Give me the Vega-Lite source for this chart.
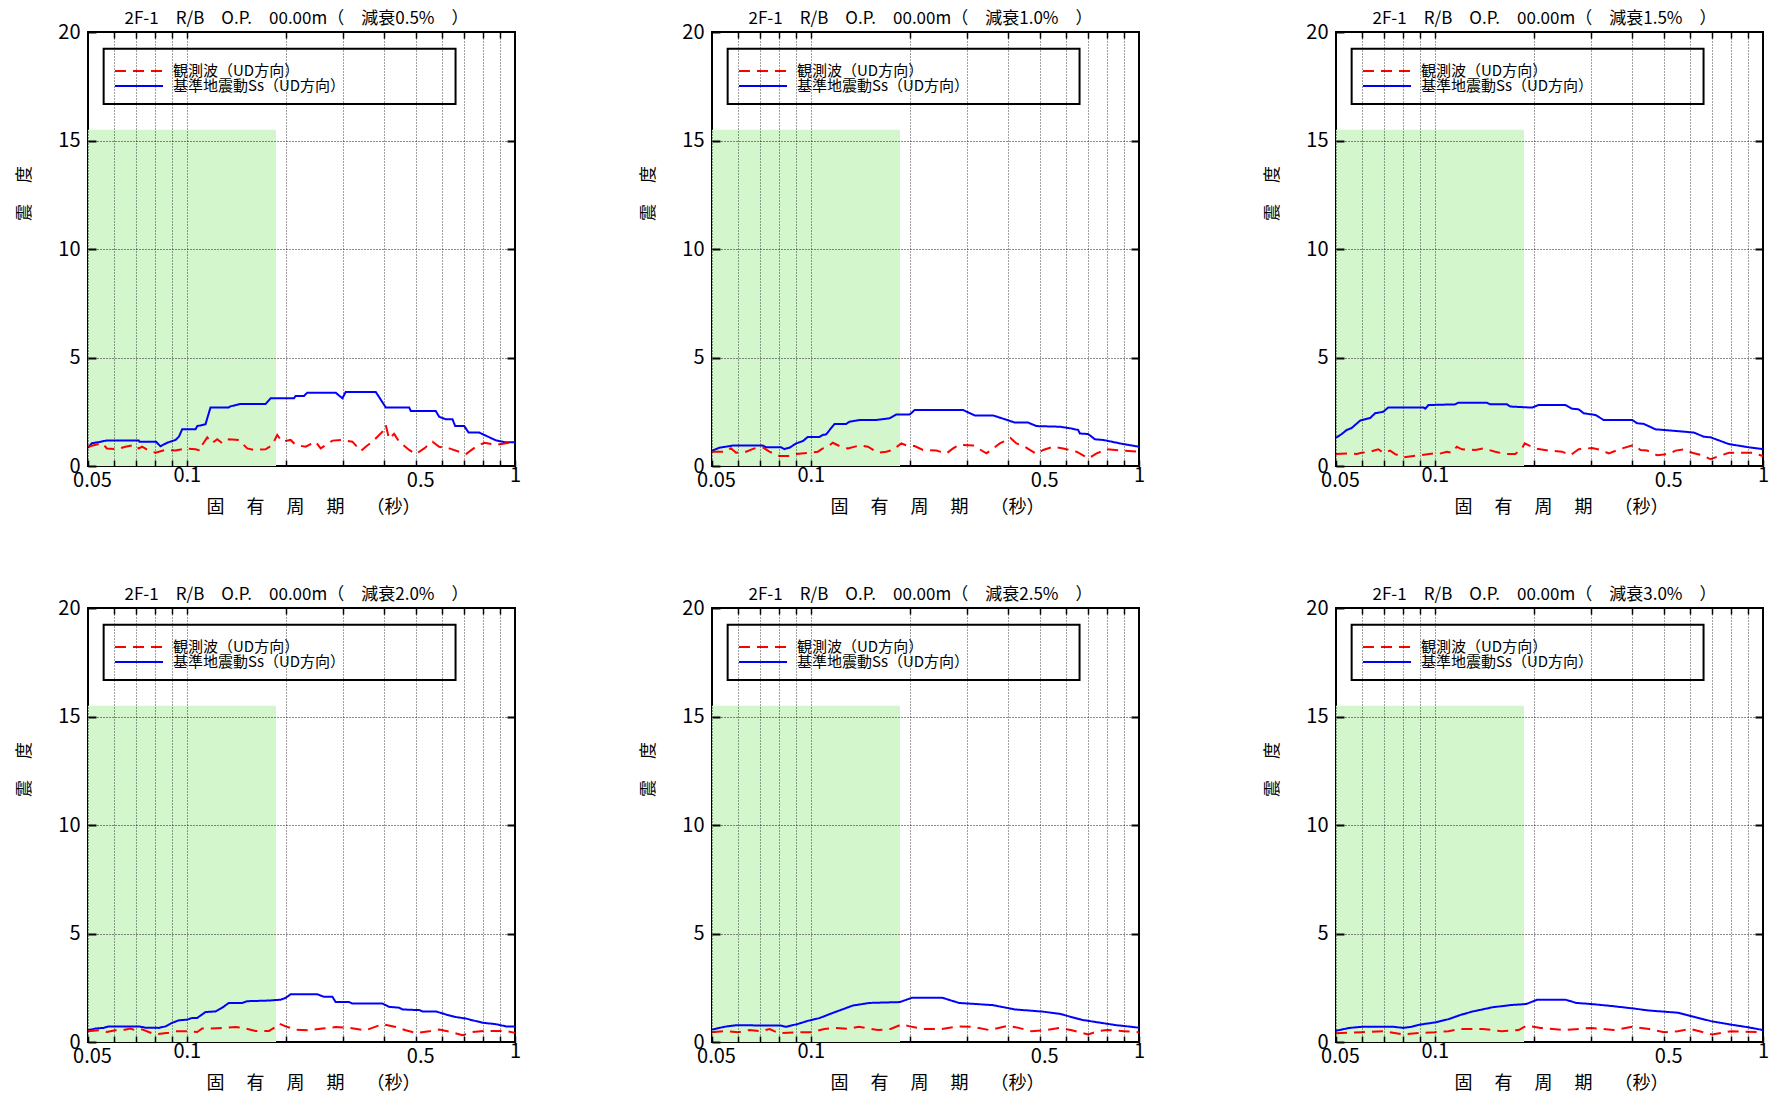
{
  "$schema": "https://vega.github.io/schema/vega-lite/v6.json",
  "padding": {"left": 14, "top": 9, "right": 0, "bottom": 0},
  "config": {
    "font": "Noto Sans CJK JP",
    "view": {"stroke": "#000", "strokeWidth": 2},
    "axis": {"labelColor": "#000", "titleColor": "#000", "titleFontWeight": "normal", "labelFont": "Noto Sans CJK JP", "titleFont": "Noto Sans CJK JP"},
    "axisBottom": {"labelPadding": {"condition": {"test": "datum.value == 0.1 || datum.value == 1", "value": 5}, "value": 10}, "labelOffset": {"condition": {"test": "datum.value == 0.05 || datum.value == 0.5", "value": 4}, "value": 0}},
    "title": {"font": "Noto Sans CJK JP", "fontSize": 17, "fontWeight": "normal", "color": "#000", "offset": -6, "frame": "group", "dx": -5},
    "legend": {"labelFont": "Noto Sans CJK JP"}
  },
  "datasets": {
    "p1": [
      {"series": "基準地震動Ss（UD方向）", "period": 0.05, "value": 0.84},
      {"series": "基準地震動Ss（UD方向）", "period": 0.0514, "value": 1.05},
      {"series": "基準地震動Ss（UD方向）", "period": 0.0539, "value": 1.10},
      {"series": "基準地震動Ss（UD方向）", "period": 0.0571, "value": 1.18},
      {"series": "基準地震動Ss（UD方向）", "period": 0.0714, "value": 1.18},
      {"series": "基準地震動Ss（UD方向）", "period": 0.0717, "value": 1.12},
      {"series": "基準地震動Ss（UD方向）", "period": 0.0806, "value": 1.12},
      {"series": "基準地震動Ss（UD方向）", "period": 0.0831, "value": 0.91},
      {"series": "基準地震動Ss（UD方向）", "period": 0.0871, "value": 1.07},
      {"series": "基準地震動Ss（UD方向）", "period": 0.0924, "value": 1.20},
      {"series": "基準地震動Ss（UD方向）", "period": 0.0946, "value": 1.35},
      {"series": "基準地震動Ss（UD方向）", "period": 0.0968, "value": 1.69},
      {"series": "基準地震動Ss（UD方向）", "period": 0.1063, "value": 1.69},
      {"series": "基準地震動Ss（UD方向）", "period": 0.1076, "value": 1.84},
      {"series": "基準地震動Ss（UD方向）", "period": 0.1140, "value": 1.92},
      {"series": "基準地震動Ss（UD方向）", "period": 0.1181, "value": 2.70},
      {"series": "基準地震動Ss（UD方向）", "period": 0.1343, "value": 2.70},
      {"series": "基準地震動Ss（UD方向）", "period": 0.1359, "value": 2.75},
      {"series": "基準地震動Ss（UD方向）", "period": 0.1458, "value": 2.86},
      {"series": "基準地震動Ss（UD方向）", "period": 0.1738, "value": 2.86},
      {"series": "基準地震動Ss（UD方向）", "period": 0.1800, "value": 3.12},
      {"series": "基準地震動Ss（UD方向）", "period": 0.2121, "value": 3.12},
      {"series": "基準地震動Ss（UD方向）", "period": 0.2146, "value": 3.23},
      {"series": "基準地震動Ss（UD方向）", "period": 0.2276, "value": 3.23},
      {"series": "基準地震動Ss（UD方向）", "period": 0.2329, "value": 3.38},
      {"series": "基準地震動Ss（UD方向）", "period": 0.2842, "value": 3.38},
      {"series": "基準地震動Ss（UD方向）", "period": 0.2978, "value": 3.12},
      {"series": "基準地震動Ss（UD方向）", "period": 0.3049, "value": 3.41},
      {"series": "基準地震動Ss（UD方向）", "period": 0.3766, "value": 3.41},
      {"series": "基準地震動Ss（UD方向）", "period": 0.4039, "value": 2.70},
      {"series": "基準地震動Ss（UD方向）", "period": 0.4759, "value": 2.70},
      {"series": "基準地震動Ss（UD方向）", "period": 0.4815, "value": 2.53},
      {"series": "基準地震動Ss（UD方向）", "period": 0.5738, "value": 2.53},
      {"series": "基準地震動Ss（UD方向）", "period": 0.5874, "value": 2.27},
      {"series": "基準地震動Ss（UD方向）", "period": 0.6156, "value": 2.15},
      {"series": "基準地震動Ss（UD方向）", "period": 0.6451, "value": 2.15},
      {"series": "基準地震動Ss（UD方向）", "period": 0.6573, "value": 1.84},
      {"series": "基準地震動Ss（UD方向）", "period": 0.7005, "value": 1.84},
      {"series": "基準地震動Ss（UD方向）", "period": 0.7222, "value": 1.54},
      {"series": "基準地震動Ss（UD方向）", "period": 0.7783, "value": 1.54},
      {"series": "基準地震動Ss（UD方向）", "period": 0.875, "value": 1.18},
      {"series": "基準地震動Ss（UD方向）", "period": 0.9278, "value": 1.10},
      {"series": "基準地震動Ss（UD方向）", "period": 1.0, "value": 1.10},
      {"series": "観測波（UD方向）", "period": 0.05, "value": 0.89},
      {"series": "観測波（UD方向）", "period": 0.0552, "value": 1.05},
      {"series": "観測波（UD方向）", "period": 0.0571, "value": 0.81},
      {"series": "観測波（UD方向）", "period": 0.0613, "value": 0.77},
      {"series": "観測波（UD方向）", "period": 0.0650, "value": 0.89},
      {"series": "観測波（UD方向）", "period": 0.0697, "value": 0.97},
      {"series": "観測波（UD方向）", "period": 0.0714, "value": 0.81},
      {"series": "観測波（UD方向）", "period": 0.0731, "value": 0.89},
      {"series": "観測波（UD方向）", "period": 0.0766, "value": 0.71},
      {"series": "観測波（UD方向）", "period": 0.0803, "value": 0.61},
      {"series": "観測波（UD方向）", "period": 0.0861, "value": 0.74},
      {"series": "観測波（UD方向）", "period": 0.0924, "value": 0.71},
      {"series": "観測波（UD方向）", "period": 0.0991, "value": 0.81},
      {"series": "観測波（UD方向）", "period": 0.1063, "value": 0.77},
      {"series": "観測波（UD方向）", "period": 0.1101, "value": 0.71},
      {"series": "観測波（UD方向）", "period": 0.1114, "value": 0.97},
      {"series": "観測波（UD方向）", "period": 0.1154, "value": 1.32},
      {"series": "観測波（UD方向）", "period": 0.1194, "value": 1.05},
      {"series": "観測波（UD方向）", "period": 0.1238, "value": 1.23},
      {"series": "観測波（UD方向）", "period": 0.1282, "value": 1.05},
      {"series": "観測波（UD方向）", "period": 0.1343, "value": 1.23},
      {"series": "観測波（UD方向）", "period": 0.1441, "value": 1.20},
      {"series": "観測波（UD方向）", "period": 0.1528, "value": 0.81},
      {"series": "観測波（UD方向）", "period": 0.1602, "value": 0.74},
      {"series": "観測波（UD方向）", "period": 0.1738, "value": 0.77},
      {"series": "観測波（UD方向）", "period": 0.1821, "value": 0.97},
      {"series": "観測波（UD方向）", "period": 0.1886, "value": 1.43},
      {"series": "観測波（UD方向）", "period": 0.1954, "value": 1.12},
      {"series": "観測波（UD方向）", "period": 0.2072, "value": 1.20},
      {"series": "観測波（UD方向）", "period": 0.2146, "value": 0.97},
      {"series": "観測波（UD方向）", "period": 0.2302, "value": 0.89},
      {"series": "観測波（UD方向）", "period": 0.2470, "value": 1.12},
      {"series": "観測波（UD方向）", "period": 0.2558, "value": 0.81},
      {"series": "観測波（UD方向）", "period": 0.2778, "value": 1.17},
      {"series": "観測波（UD方向）", "period": 0.2978, "value": 1.20},
      {"series": "観測波（UD方向）", "period": 0.3196, "value": 1.12},
      {"series": "観測波（UD方向）", "period": 0.3389, "value": 0.69},
      {"series": "観測波（UD方向）", "period": 0.3510, "value": 0.89},
      {"series": "観測波（UD方向）", "period": 0.3678, "value": 1.12},
      {"series": "観測波（UD方向）", "period": 0.3946, "value": 1.58},
      {"series": "観測波（UD方向）", "period": 0.4039, "value": 1.89},
      {"series": "観測波（UD方向）", "period": 0.4135, "value": 1.25},
      {"series": "観測波（UD方向）", "period": 0.4283, "value": 1.48},
      {"series": "観測波（UD方向）", "period": 0.4436, "value": 1.12},
      {"series": "観測波（UD方向）", "period": 0.4759, "value": 0.74},
      {"series": "観測波（UD方向）", "period": 0.4987, "value": 0.55},
      {"series": "観測波（UD方向）", "period": 0.5288, "value": 0.81},
      {"series": "観測波（UD方向）", "period": 0.5607, "value": 1.12},
      {"series": "観測波（UD方向）", "period": 0.5874, "value": 0.89},
      {"series": "観測波（UD方向）", "period": 0.6305, "value": 0.81},
      {"series": "観測波（UD方向）", "period": 0.7088, "value": 0.55},
      {"series": "観測波（UD方向）", "period": 0.7602, "value": 0.89},
      {"series": "観測波（UD方向）", "period": 0.806, "value": 1.07},
      {"series": "観測波（UD方向）", "period": 0.875, "value": 0.97},
      {"series": "観測波（UD方向）", "period": 1.0, "value": 1.12}
    ],
    "p2": [
      {"series": "基準地震動Ss（UD方向）", "period": 0.05, "value": 0.70},
      {"series": "基準地震動Ss（UD方向）", "period": 0.0526, "value": 0.84},
      {"series": "基準地震動Ss（UD方向）", "period": 0.0578, "value": 0.94},
      {"series": "基準地震動Ss（UD方向）", "period": 0.0714, "value": 0.94},
      {"series": "基準地震動Ss（UD方向）", "period": 0.0731, "value": 0.86},
      {"series": "基準地震動Ss（UD方向）", "period": 0.0812, "value": 0.86},
      {"series": "基準地震動Ss（UD方向）", "period": 0.0831, "value": 0.78},
      {"series": "基準地震動Ss（UD方向）", "period": 0.0861, "value": 0.84},
      {"series": "基準地震動Ss（UD方向）", "period": 0.0902, "value": 1.04},
      {"series": "基準地震動Ss（UD方向）", "period": 0.0946, "value": 1.15},
      {"series": "基準地震動Ss（UD方向）", "period": 0.0979, "value": 1.34},
      {"series": "基準地震動Ss（UD方向）", "period": 0.1063, "value": 1.34},
      {"series": "基準地震動Ss（UD方向）", "period": 0.1088, "value": 1.43},
      {"series": "基準地震動Ss（UD方向）", "period": 0.1114, "value": 1.46},
      {"series": "基準地震動Ss（UD方向）", "period": 0.1181, "value": 1.94},
      {"series": "基準地震動Ss（UD方向）", "period": 0.1282, "value": 1.94},
      {"series": "基準地震動Ss（UD方向）", "period": 0.1312, "value": 2.04},
      {"series": "基準地震動Ss（UD方向）", "period": 0.1408, "value": 2.12},
      {"series": "基準地震動Ss（UD方向）", "period": 0.1583, "value": 2.12},
      {"series": "基準地震動Ss（UD方向）", "period": 0.1738, "value": 2.20},
      {"series": "基準地震動Ss（UD方向）", "period": 0.1821, "value": 2.37},
      {"series": "基準地震動Ss（UD方向）", "period": 0.2001, "value": 2.37},
      {"series": "基準地震動Ss（UD方向）", "period": 0.2072, "value": 2.58},
      {"series": "基準地震動Ss（UD方向）", "period": 0.2911, "value": 2.58},
      {"series": "基準地震動Ss（UD方向）", "period": 0.3159, "value": 2.33},
      {"series": "基準地震動Ss（UD方向）", "period": 0.3593, "value": 2.33},
      {"series": "基準地震動Ss（UD方向）", "period": 0.3946, "value": 2.13},
      {"series": "基準地震動Ss（UD方向）", "period": 0.4185, "value": 2.00},
      {"series": "基準地震動Ss（UD方向）", "period": 0.4595, "value": 2.00},
      {"series": "基準地震動Ss（UD方向）", "period": 0.4872, "value": 1.84},
      {"series": "基準地震動Ss（UD方向）", "period": 0.5738, "value": 1.81},
      {"series": "基準地震動Ss（UD方向）", "period": 0.6156, "value": 1.74},
      {"series": "基準地震動Ss（UD方向）", "period": 0.6527, "value": 1.66},
      {"series": "基準地震動Ss（UD方向）", "period": 0.6604, "value": 1.50},
      {"series": "基準地震動Ss（UD方向）", "period": 0.7005, "value": 1.47},
      {"series": "基準地震動Ss（UD方向）", "period": 0.7341, "value": 1.23},
      {"series": "基準地震動Ss（UD方向）", "period": 0.7783, "value": 1.20},
      {"series": "基準地震動Ss（UD方向）", "period": 0.8957, "value": 1.01},
      {"series": "基準地震動Ss（UD方向）", "period": 1.0, "value": 0.89},
      {"series": "観測波（UD方向）", "period": 0.05, "value": 0.66},
      {"series": "観測波（UD方向）", "period": 0.0552, "value": 0.66},
      {"series": "観測波（UD方向）", "period": 0.0571, "value": 0.82},
      {"series": "観測波（UD方向）", "period": 0.0592, "value": 0.61},
      {"series": "観測波（UD方向）", "period": 0.0635, "value": 0.66},
      {"series": "観測波（UD方向）", "period": 0.0673, "value": 0.81},
      {"series": "観測波（UD方向）", "period": 0.0714, "value": 0.86},
      {"series": "観測波（UD方向）", "period": 0.0748, "value": 0.66},
      {"series": "観測波（UD方向）", "period": 0.0803, "value": 0.46},
      {"series": "観測波（UD方向）", "period": 0.0861, "value": 0.46},
      {"series": "観測波（UD方向）", "period": 0.0902, "value": 0.55},
      {"series": "観測波（UD方向）", "period": 0.0991, "value": 0.61},
      {"series": "観測波（UD方向）", "period": 0.1051, "value": 0.66},
      {"series": "観測波（UD方向）", "period": 0.1088, "value": 0.81},
      {"series": "観測波（UD方向）", "period": 0.1127, "value": 0.89},
      {"series": "観測波（UD方向）", "period": 0.1167, "value": 1.07},
      {"series": "観測波（UD方向）", "period": 0.1223, "value": 0.92},
      {"series": "観測波（UD方向）", "period": 0.1297, "value": 0.81},
      {"series": "観測波（UD方向）", "period": 0.1408, "value": 0.95},
      {"series": "観測波（UD方向）", "period": 0.1493, "value": 0.89},
      {"series": "観測波（UD方向）", "period": 0.1602, "value": 0.61},
      {"series": "観測波（UD方向）", "period": 0.1698, "value": 0.66},
      {"series": "観測波（UD方向）", "period": 0.1780, "value": 0.74},
      {"series": "観測波（UD方向）", "period": 0.1886, "value": 1.04},
      {"series": "観測波（UD方向）", "period": 0.1954, "value": 0.95},
      {"series": "観測波（UD方向）", "period": 0.2072, "value": 0.92},
      {"series": "観測波（UD方向）", "period": 0.2197, "value": 0.74},
      {"series": "観測波（UD方向）", "period": 0.2414, "value": 0.71},
      {"series": "観測波（UD方向）", "period": 0.2589, "value": 0.58},
      {"series": "観測波（UD方向）", "period": 0.2713, "value": 0.81},
      {"series": "観測波（UD方向）", "period": 0.2842, "value": 0.98},
      {"series": "観測波（UD方向）", "period": 0.3122, "value": 0.95},
      {"series": "観測波（UD方向）", "period": 0.3429, "value": 0.58},
      {"series": "観測波（UD方向）", "period": 0.3766, "value": 1.04},
      {"series": "観測波（UD方向）", "period": 0.4058, "value": 1.29},
      {"series": "観測波（UD方向）", "period": 0.4233, "value": 1.04},
      {"series": "観測波（UD方向）", "period": 0.4489, "value": 0.89},
      {"series": "観測波（UD方向）", "period": 0.4872, "value": 0.55},
      {"series": "観測波（UD方向）", "period": 0.5106, "value": 0.74},
      {"series": "観測波（UD方向）", "period": 0.5478, "value": 0.89},
      {"series": "観測波（UD方向）", "period": 0.5874, "value": 0.81},
      {"series": "観測波（UD方向）", "period": 0.6451, "value": 0.66},
      {"series": "観測波（UD方向）", "period": 0.7005, "value": 0.35},
      {"series": "観測波（UD方向）", "period": 0.7428, "value": 0.58},
      {"series": "観測波（UD方向）", "period": 0.7966, "value": 0.77},
      {"series": "観測波（UD方向）", "period": 0.8957, "value": 0.71},
      {"series": "観測波（UD方向）", "period": 1.0, "value": 0.66}
    ],
    "p3": [
      {"series": "基準地震動Ss（UD方向）", "period": 0.05, "value": 1.30},
      {"series": "基準地震動Ss（UD方向）", "period": 0.0520, "value": 1.47},
      {"series": "基準地震動Ss（UD方向）", "period": 0.0539, "value": 1.66},
      {"series": "基準地震動Ss（UD方向）", "period": 0.0558, "value": 1.75},
      {"series": "基準地震動Ss（UD方向）", "period": 0.0592, "value": 2.09},
      {"series": "基準地震動Ss（UD方向）", "period": 0.0635, "value": 2.21},
      {"series": "基準地震動Ss（UD方向）", "period": 0.0658, "value": 2.43},
      {"series": "基準地震動Ss（UD方向）", "period": 0.0697, "value": 2.50},
      {"series": "基準地震動Ss（UD方向）", "period": 0.0722, "value": 2.70},
      {"series": "基準地震動Ss（UD方向）", "period": 0.0924, "value": 2.70},
      {"series": "基準地震動Ss（UD方向）", "period": 0.0935, "value": 2.64},
      {"series": "基準地震動Ss（UD方向）", "period": 0.0957, "value": 2.81},
      {"series": "基準地震動Ss（UD方向）", "period": 0.1154, "value": 2.84},
      {"series": "基準地震動Ss（UD方向）", "period": 0.1181, "value": 2.92},
      {"series": "基準地震動Ss（UD方向）", "period": 0.1441, "value": 2.92},
      {"series": "基準地震動Ss（UD方向）", "period": 0.1475, "value": 2.84},
      {"series": "基準地震動Ss（UD方向）", "period": 0.1659, "value": 2.84},
      {"series": "基準地震動Ss（UD方向）", "period": 0.1698, "value": 2.74},
      {"series": "基準地震動Ss（UD方向）", "period": 0.1977, "value": 2.69},
      {"series": "基準地震動Ss（UD方向）", "period": 0.2072, "value": 2.81},
      {"series": "基準地震動Ss（UD方向）", "period": 0.2499, "value": 2.81},
      {"series": "基準地震動Ss（UD方向）", "period": 0.2620, "value": 2.64},
      {"series": "基準地震動Ss（UD方向）", "period": 0.2745, "value": 2.61},
      {"series": "基準地震動Ss（UD方向）", "period": 0.2842, "value": 2.43},
      {"series": "基準地震動Ss（UD方向）", "period": 0.3086, "value": 2.35},
      {"series": "基準地震動Ss（UD方向）", "period": 0.3272, "value": 2.12},
      {"series": "基準地震動Ss（UD方向）", "period": 0.3993, "value": 2.12},
      {"series": "基準地震動Ss（UD方向）", "period": 0.4135, "value": 1.97},
      {"series": "基準地震動Ss（UD方向）", "period": 0.4334, "value": 1.94},
      {"series": "基準地震動Ss（UD方向）", "period": 0.4703, "value": 1.69},
      {"series": "基準地震動Ss（UD方向）", "period": 0.4987, "value": 1.66},
      {"series": "基準地震動Ss（UD方向）", "period": 0.5671, "value": 1.59},
      {"series": "基準地震動Ss（UD方向）", "period": 0.6156, "value": 1.54},
      {"series": "基準地震動Ss（UD方向）", "period": 0.6604, "value": 1.35},
      {"series": "基準地震動Ss（UD方向）", "period": 0.6924, "value": 1.32},
      {"series": "基準地震動Ss（UD方向）", "period": 0.7874, "value": 1.01},
      {"series": "基準地震動Ss（UD方向）", "period": 0.9063, "value": 0.86},
      {"series": "基準地震動Ss（UD方向）", "period": 1.0, "value": 0.78},
      {"series": "観測波（UD方向）", "period": 0.05, "value": 0.55},
      {"series": "観測波（UD方向）", "period": 0.0558, "value": 0.58},
      {"series": "観測波（UD方向）", "period": 0.0578, "value": 0.55},
      {"series": "観測波（UD方向）", "period": 0.0599, "value": 0.61},
      {"series": "観測波（UD方向）", "period": 0.0635, "value": 0.66},
      {"series": "観測波（UD方向）", "period": 0.0673, "value": 0.77},
      {"series": "観測波（UD方向）", "period": 0.0697, "value": 0.61},
      {"series": "観測波（UD方向）", "period": 0.0731, "value": 0.71},
      {"series": "観測波（UD方向）", "period": 0.0757, "value": 0.55},
      {"series": "観測波（UD方向）", "period": 0.0803, "value": 0.40},
      {"series": "観測波（UD方向）", "period": 0.0902, "value": 0.50},
      {"series": "観測波（UD方向）", "period": 0.0991, "value": 0.58},
      {"series": "観測波（UD方向）", "period": 0.1026, "value": 0.55},
      {"series": "観測波（UD方向）", "period": 0.1088, "value": 0.66},
      {"series": "観測波（UD方向）", "period": 0.1127, "value": 0.61},
      {"series": "観測波（UD方向）", "period": 0.1167, "value": 0.89},
      {"series": "観測波（UD方向）", "period": 0.1209, "value": 0.77},
      {"series": "観測波（UD方向）", "period": 0.1328, "value": 0.74},
      {"series": "観測波（UD方向）", "period": 0.1408, "value": 0.81},
      {"series": "観測波（UD方向）", "period": 0.1528, "value": 0.66},
      {"series": "観測波（UD方向）", "period": 0.1639, "value": 0.55},
      {"series": "観測波（UD方向）", "period": 0.1759, "value": 0.55},
      {"series": "観測波（UD方向）", "period": 0.1844, "value": 0.81},
      {"series": "観測波（UD方向）", "period": 0.1879, "value": 1.04},
      {"series": "観測波（UD方向）", "period": 0.2024, "value": 0.81},
      {"series": "観測波（UD方向）", "period": 0.2223, "value": 0.71},
      {"series": "観測波（UD方向）", "period": 0.2442, "value": 0.66},
      {"series": "観測波（UD方向）", "period": 0.2589, "value": 0.50},
      {"series": "観測波（UD方向）", "period": 0.2745, "value": 0.77},
      {"series": "観測波（UD方向）", "period": 0.3014, "value": 0.83},
      {"series": "観測波（UD方向）", "period": 0.3196, "value": 0.74},
      {"series": "観測波（UD方向）", "period": 0.3389, "value": 0.58},
      {"series": "観測波（UD方向）", "period": 0.3722, "value": 0.81},
      {"series": "観測波（UD方向）", "period": 0.4039, "value": 0.97},
      {"series": "観測波（UD方向）", "period": 0.4233, "value": 0.74},
      {"series": "観測波（UD方向）", "period": 0.4436, "value": 0.71},
      {"series": "観測波（UD方向）", "period": 0.4759, "value": 0.50},
      {"series": "観測波（UD方向）", "period": 0.5166, "value": 0.55},
      {"series": "観測波（UD方向）", "period": 0.5414, "value": 0.71},
      {"series": "観測波（UD方向）", "period": 0.5738, "value": 0.77},
      {"series": "観測波（UD方向）", "period": 0.6085, "value": 0.61},
      {"series": "観測波（UD方向）", "period": 0.6527, "value": 0.50},
      {"series": "観測波（UD方向）", "period": 0.6924, "value": 0.31},
      {"series": "観測波（UD方向）", "period": 0.7341, "value": 0.46},
      {"series": "観測波（UD方向）", "period": 0.7874, "value": 0.61},
      {"series": "観測波（UD方向）", "period": 0.9278, "value": 0.61},
      {"series": "観測波（UD方向）", "period": 1.0, "value": 0.46}
    ],
    "p4": [
      {"series": "基準地震動Ss（UD方向）", "period": 0.05, "value": 0.54},
      {"series": "基準地震動Ss（UD方向）", "period": 0.0526, "value": 0.62},
      {"series": "基準地震動Ss（UD方向）", "period": 0.0558, "value": 0.65},
      {"series": "基準地震動Ss（UD方向）", "period": 0.0578, "value": 0.72},
      {"series": "基準地震動Ss（UD方向）", "period": 0.0714, "value": 0.72},
      {"series": "基準地震動Ss（UD方向）", "period": 0.0748, "value": 0.66},
      {"series": "基準地震動Ss（UD方向）", "period": 0.0822, "value": 0.65},
      {"series": "基準地震動Ss（UD方向）", "period": 0.0861, "value": 0.72},
      {"series": "基準地震動Ss（UD方向）", "period": 0.0902, "value": 0.88},
      {"series": "基準地震動Ss（UD方向）", "period": 0.0946, "value": 1.00},
      {"series": "基準地震動Ss（UD方向）", "period": 0.1003, "value": 1.03},
      {"series": "基準地震動Ss（UD方向）", "period": 0.1038, "value": 1.11},
      {"series": "基準地震動Ss（UD方向）", "period": 0.1076, "value": 1.11},
      {"series": "基準地震動Ss（UD方向）", "period": 0.1140, "value": 1.38},
      {"series": "基準地震動Ss（UD方向）", "period": 0.1223, "value": 1.41},
      {"series": "基準地震動Ss（UD方向）", "period": 0.1282, "value": 1.58},
      {"series": "基準地震動Ss（UD方向）", "period": 0.1343, "value": 1.80},
      {"series": "基準地震動Ss（UD方向）", "period": 0.1475, "value": 1.80},
      {"series": "基準地震動Ss（UD方向）", "period": 0.1528, "value": 1.88},
      {"series": "基準地震動Ss（UD方向）", "period": 0.1780, "value": 1.91},
      {"series": "基準地震動Ss（UD方向）", "period": 0.1932, "value": 1.95},
      {"series": "基準地震動Ss（UD方向）", "period": 0.2001, "value": 2.03},
      {"series": "基準地震動Ss（UD方向）", "period": 0.2072, "value": 2.20},
      {"series": "基準地震動Ss（UD方向）", "period": 0.2499, "value": 2.20},
      {"series": "基準地震動Ss（UD方向）", "period": 0.2620, "value": 2.08},
      {"series": "基準地震動Ss（UD方向）", "period": 0.2778, "value": 2.08},
      {"series": "基準地震動Ss（UD方向）", "period": 0.2842, "value": 1.84},
      {"series": "基準地震動Ss（UD方向）", "period": 0.3122, "value": 1.84},
      {"series": "基準地震動Ss（UD方向）", "period": 0.3196, "value": 1.77},
      {"series": "基準地震動Ss（UD方向）", "period": 0.3946, "value": 1.77},
      {"series": "基準地震動Ss（UD方向）", "period": 0.4135, "value": 1.62},
      {"series": "基準地震動Ss（UD方向）", "period": 0.4436, "value": 1.58},
      {"series": "基準地震動Ss（UD方向）", "period": 0.4542, "value": 1.50},
      {"series": "基準地震動Ss（UD方向）", "period": 0.5106, "value": 1.47},
      {"series": "基準地震動Ss（UD方向）", "period": 0.5227, "value": 1.41},
      {"series": "基準地震動Ss（UD方向）", "period": 0.5738, "value": 1.41},
      {"series": "基準地震動Ss（UD方向）", "period": 0.6156, "value": 1.27},
      {"series": "基準地震動Ss（UD方向）", "period": 0.6604, "value": 1.15},
      {"series": "基準地震動Ss（UD方向）", "period": 0.7088, "value": 1.08},
      {"series": "基準地震動Ss（UD方向）", "period": 0.7428, "value": 1.00},
      {"series": "基準地震動Ss（UD方向）", "period": 0.7966, "value": 0.89},
      {"series": "基準地震動Ss（UD方向）", "period": 0.875, "value": 0.82},
      {"series": "基準地震動Ss（UD方向）", "period": 0.9385, "value": 0.72},
      {"series": "基準地震動Ss（UD方向）", "period": 1.0, "value": 0.72},
      {"series": "観測波（UD方向）", "period": 0.05, "value": 0.49},
      {"series": "観測波（UD方向）", "period": 0.0539, "value": 0.54},
      {"series": "観測波（UD方向）", "period": 0.0571, "value": 0.46},
      {"series": "観測波（UD方向）", "period": 0.0606, "value": 0.54},
      {"series": "観測波（UD方向）", "period": 0.0635, "value": 0.54},
      {"series": "観測波（UD方向）", "period": 0.0673, "value": 0.62},
      {"series": "観測波（UD方向）", "period": 0.0697, "value": 0.54},
      {"series": "観測波（UD方向）", "period": 0.0731, "value": 0.58},
      {"series": "観測波（UD方向）", "period": 0.0766, "value": 0.46},
      {"series": "観測波（UD方向）", "period": 0.0803, "value": 0.35},
      {"series": "観測波（UD方向）", "period": 0.0881, "value": 0.43},
      {"series": "観測波（UD方向）", "period": 0.0924, "value": 0.49},
      {"series": "観測波（UD方向）", "period": 0.1014, "value": 0.49},
      {"series": "観測波（UD方向）", "period": 0.1076, "value": 0.46},
      {"series": "観測波（UD方向）", "period": 0.1114, "value": 0.62},
      {"series": "観測波（UD方向）", "period": 0.1167, "value": 0.62},
      {"series": "観測波（UD方向）", "period": 0.1282, "value": 0.65},
      {"series": "観測波（UD方向）", "period": 0.1408, "value": 0.69},
      {"series": "観測波（UD方向）", "period": 0.1475, "value": 0.66},
      {"series": "観測波（UD方向）", "period": 0.1620, "value": 0.51},
      {"series": "観測波（UD方向）", "period": 0.1780, "value": 0.51},
      {"series": "観測波（UD方向）", "period": 0.1865, "value": 0.69},
      {"series": "観測波（UD方向）", "period": 0.1910, "value": 0.85},
      {"series": "観測波（UD方向）", "period": 0.2001, "value": 0.72},
      {"series": "観測波（UD方向）", "period": 0.2146, "value": 0.57},
      {"series": "観測波（UD方向）", "period": 0.2358, "value": 0.54},
      {"series": "観測波（UD方向）", "period": 0.2589, "value": 0.62},
      {"series": "観測波（UD方向）", "period": 0.2842, "value": 0.69},
      {"series": "観測波（UD方向）", "period": 0.3122, "value": 0.65},
      {"series": "観測波（UD方向）", "period": 0.3510, "value": 0.54},
      {"series": "観測波（UD方向）", "period": 0.3946, "value": 0.82},
      {"series": "観測波（UD方向）", "period": 0.4334, "value": 0.69},
      {"series": "観測波（UD方向）", "period": 0.4649, "value": 0.54},
      {"series": "観測波（UD方向）", "period": 0.4987, "value": 0.42},
      {"series": "観測波（UD方向）", "period": 0.5478, "value": 0.49},
      {"series": "観測波（UD方向）", "period": 0.5874, "value": 0.57},
      {"series": "観測波（UD方向）", "period": 0.6378, "value": 0.46},
      {"series": "観測波（UD方向）", "period": 0.6924, "value": 0.31},
      {"series": "観測波（UD方向）", "period": 0.7428, "value": 0.46},
      {"series": "観測波（UD方向）", "period": 0.806, "value": 0.51},
      {"series": "観測波（UD方向）", "period": 0.9385, "value": 0.51},
      {"series": "観測波（UD方向）", "period": 1.0, "value": 0.42}
    ],
    "p5": [
      {"series": "基準地震動Ss（UD方向）", "period": 0.05, "value": 0.57},
      {"series": "基準地震動Ss（UD方向）", "period": 0.0545, "value": 0.70},
      {"series": "基準地震動Ss（UD方向）", "period": 0.059, "value": 0.77},
      {"series": "基準地震動Ss（UD方向）", "period": 0.0807, "value": 0.76},
      {"series": "基準地震動Ss（UD方向）", "period": 0.0839, "value": 0.70},
      {"series": "基準地震動Ss（UD方向）", "period": 0.0908, "value": 0.82},
      {"series": "基準地震動Ss（UD方向）", "period": 0.0982, "value": 0.98},
      {"series": "基準地震動Ss（UD方向）", "period": 0.1062, "value": 1.1},
      {"series": "基準地震動Ss（UD方向）", "period": 0.1148, "value": 1.3},
      {"series": "基準地震動Ss（UD方向）", "period": 0.1343, "value": 1.68},
      {"series": "基準地震動Ss（UD方向）", "period": 0.151, "value": 1.8},
      {"series": "基準地震動Ss（UD方向）", "period": 0.1867, "value": 1.84},
      {"series": "基準地震動Ss（UD方向）", "period": 0.2035, "value": 2.04},
      {"series": "基準地震動Ss（UD方向）", "period": 0.2515, "value": 2.04},
      {"series": "基準地震動Ss（UD方向）", "period": 0.283, "value": 1.8},
      {"series": "基準地震動Ss（UD方向）", "period": 0.358, "value": 1.7},
      {"series": "基準地震動Ss（UD方向）", "period": 0.419, "value": 1.5},
      {"series": "基準地震動Ss（UD方向）", "period": 0.509, "value": 1.4},
      {"series": "基準地震動Ss（UD方向）", "period": 0.573, "value": 1.3},
      {"series": "基準地震動Ss（UD方向）", "period": 0.67, "value": 1.02},
      {"series": "基準地震動Ss（UD方向）", "period": 0.848, "value": 0.78},
      {"series": "基準地震動Ss（UD方向）", "period": 1.0, "value": 0.66},
      {"series": "観測波（UD方向）", "period": 0.05, "value": 0.45},
      {"series": "観測波（UD方向）", "period": 0.055, "value": 0.5},
      {"series": "観測波（UD方向）", "period": 0.06, "value": 0.45},
      {"series": "観測波（UD方向）", "period": 0.065, "value": 0.55},
      {"series": "観測波（UD方向）", "period": 0.07, "value": 0.5},
      {"series": "観測波（UD方向）", "period": 0.075, "value": 0.6},
      {"series": "観測波（UD方向）", "period": 0.08, "value": 0.4},
      {"series": "観測波（UD方向）", "period": 0.09, "value": 0.45},
      {"series": "観測波（UD方向）", "period": 0.1, "value": 0.45},
      {"series": "観測波（UD方向）", "period": 0.11, "value": 0.6},
      {"series": "観測波（UD方向）", "period": 0.12, "value": 0.65},
      {"series": "観測波（UD方向）", "period": 0.13, "value": 0.6},
      {"series": "観測波（UD方向）", "period": 0.14, "value": 0.7},
      {"series": "観測波（UD方向）", "period": 0.16, "value": 0.55},
      {"series": "観測波（UD方向）", "period": 0.175, "value": 0.6},
      {"series": "観測波（UD方向）", "period": 0.19, "value": 0.82},
      {"series": "観測波（UD方向）", "period": 0.2, "value": 0.72},
      {"series": "観測波（UD方向）", "period": 0.22, "value": 0.6},
      {"series": "観測波（UD方向）", "period": 0.25, "value": 0.6},
      {"series": "観測波（UD方向）", "period": 0.28, "value": 0.72},
      {"series": "観測波（UD方向）", "period": 0.31, "value": 0.7},
      {"series": "観測波（UD方向）", "period": 0.35, "value": 0.55},
      {"series": "観測波（UD方向）", "period": 0.4, "value": 0.75},
      {"series": "観測波（UD方向）", "period": 0.43, "value": 0.65},
      {"series": "観測波（UD方向）", "period": 0.47, "value": 0.5},
      {"series": "観測波（UD方向）", "period": 0.52, "value": 0.55},
      {"series": "観測波（UD方向）", "period": 0.57, "value": 0.65},
      {"series": "観測波（UD方向）", "period": 0.62, "value": 0.55},
      {"series": "観測波（UD方向）", "period": 0.7, "value": 0.35},
      {"series": "観測波（UD方向）", "period": 0.75, "value": 0.5},
      {"series": "観測波（UD方向）", "period": 0.8, "value": 0.55},
      {"series": "観測波（UD方向）", "period": 0.9, "value": 0.5},
      {"series": "観測波（UD方向）", "period": 1.0, "value": 0.45}
    ],
    "p6": [
      {"series": "基準地震動Ss（UD方向）", "period": 0.05, "value": 0.52},
      {"series": "基準地震動Ss（UD方向）", "period": 0.055, "value": 0.65},
      {"series": "基準地震動Ss（UD方向）", "period": 0.06, "value": 0.7},
      {"series": "基準地震動Ss（UD方向）", "period": 0.075, "value": 0.7},
      {"series": "基準地震動Ss（UD方向）", "period": 0.08, "value": 0.65},
      {"series": "基準地震動Ss（UD方向）", "period": 0.085, "value": 0.7},
      {"series": "基準地震動Ss（UD方向）", "period": 0.09, "value": 0.8},
      {"series": "基準地震動Ss（UD方向）", "period": 0.1, "value": 0.9},
      {"series": "基準地震動Ss（UD方向）", "period": 0.11, "value": 1.05},
      {"series": "基準地震動Ss（UD方向）", "period": 0.12, "value": 1.25},
      {"series": "基準地震動Ss（UD方向）", "period": 0.13, "value": 1.4},
      {"series": "基準地震動Ss（UD方向）", "period": 0.15, "value": 1.6},
      {"series": "基準地震動Ss（UD方向）", "period": 0.17, "value": 1.7},
      {"series": "基準地震動Ss（UD方向）", "period": 0.19, "value": 1.75},
      {"series": "基準地震動Ss（UD方向）", "period": 0.205, "value": 1.95},
      {"series": "基準地震動Ss（UD方向）", "period": 0.25, "value": 1.95},
      {"series": "基準地震動Ss（UD方向）", "period": 0.27, "value": 1.8},
      {"series": "基準地震動Ss（UD方向）", "period": 0.3, "value": 1.75},
      {"series": "基準地震動Ss（UD方向）", "period": 0.35, "value": 1.65},
      {"series": "基準地震動Ss（UD方向）", "period": 0.4, "value": 1.55},
      {"series": "基準地震動Ss（UD方向）", "period": 0.45, "value": 1.45},
      {"series": "基準地震動Ss（UD方向）", "period": 0.55, "value": 1.35},
      {"series": "基準地震動Ss（UD方向）", "period": 0.6, "value": 1.2},
      {"series": "基準地震動Ss（UD方向）", "period": 0.7, "value": 0.95},
      {"series": "基準地震動Ss（UD方向）", "period": 0.8, "value": 0.8},
      {"series": "基準地震動Ss（UD方向）", "period": 0.9, "value": 0.68},
      {"series": "基準地震動Ss（UD方向）", "period": 1.0, "value": 0.55},
      {"series": "観測波（UD方向）", "period": 0.05, "value": 0.4},
      {"series": "観測波（UD方向）", "period": 0.06, "value": 0.45},
      {"series": "観測波（UD方向）", "period": 0.07, "value": 0.5},
      {"series": "観測波（UD方向）", "period": 0.08, "value": 0.35},
      {"series": "観測波（UD方向）", "period": 0.09, "value": 0.42},
      {"series": "観測波（UD方向）", "period": 0.1, "value": 0.45},
      {"series": "観測波（UD方向）", "period": 0.11, "value": 0.5},
      {"series": "観測波（UD方向）", "period": 0.12, "value": 0.6},
      {"series": "観測波（UD方向）", "period": 0.14, "value": 0.6},
      {"series": "観測波（UD方向）", "period": 0.16, "value": 0.5},
      {"series": "観測波（UD方向）", "period": 0.18, "value": 0.55},
      {"series": "観測波（UD方向）", "period": 0.19, "value": 0.75},
      {"series": "観測波（UD方向）", "period": 0.21, "value": 0.65},
      {"series": "観測波（UD方向）", "period": 0.25, "value": 0.55},
      {"series": "観測波（UD方向）", "period": 0.3, "value": 0.65},
      {"series": "観測波（UD方向）", "period": 0.35, "value": 0.55},
      {"series": "観測波（UD方向）", "period": 0.4, "value": 0.7},
      {"series": "観測波（UD方向）", "period": 0.45, "value": 0.6},
      {"series": "観測波（UD方向）", "period": 0.5, "value": 0.45},
      {"series": "観測波（UD方向）", "period": 0.55, "value": 0.5},
      {"series": "観測波（UD方向）", "period": 0.6, "value": 0.6},
      {"series": "観測波（UD方向）", "period": 0.7, "value": 0.35},
      {"series": "観測波（UD方向）", "period": 0.8, "value": 0.5},
      {"series": "観測波（UD方向）", "period": 1.0, "value": 0.45}
    ]
  },
  "columns": 3,
  "spacing": {"row": 142, "column": 197},
  "bounds": "flush",
  "resolve": {
    "scale": {"stroke": "independent", "strokeDash": "independent"},
    "legend": {"stroke": "independent", "strokeDash": "independent"}
  },
  "concat": [
    {
      "width": 427, "height": 434,
      "title": {"text": "2F-1　R/B　O.P.　00.00m（　減衰0.5%　）"},
      "resolve": {"axis": {"x": "independent", "y": "independent"}},
      "layer": [
        {"data": {"values": [{}]}, "mark": {"type": "rect", "fill": "#d3f6cd"},
         "encoding": {
           "x": {"datum": 0.05, "type": "quantitative", "scale": {"type": "log", "domain": [0.05, 1], "nice": false}, "axis": {"orient": "top", "values": [0.06, 0.07, 0.08, 0.09, 0.1, 0.2, 0.3, 0.4, 0.5, 0.6, 0.7, 0.8, 0.9], "labels": false, "grid": false, "domain": false, "tickSize": -6, "tickColor": "#000", "tickWidth": 1.5, "title": null, "zindex": 1}},
           "x2": {"datum": 0.187},
           "y": {"datum": 0, "type": "quantitative", "scale": {"domain": [0, 20], "nice": false}, "axis": {"orient": "right", "values": [5, 10, 15], "labels": false, "grid": false, "domain": false, "tickSize": -8, "tickColor": "#000", "tickWidth": 2, "title": null, "zindex": 1}},
           "y2": {"datum": 15.5}
         }},
        {"data": {"values": [{}]}, "mark": {"type": "rect", "filled": false, "stroke": "#000", "strokeWidth": 2},
         "encoding": {
           "x": {"datum": 0.0558, "type": "quantitative", "scale": {"type": "log", "domain": [0.05, 1], "nice": false}, "axis": null},
           "x2": {"datum": 0.659},
           "y": {"datum": 19.23, "type": "quantitative", "scale": {"domain": [0, 20], "nice": false}, "axis": null},
           "y2": {"datum": 16.68}
         }},
        {"data": {"name": "p1"}, "mark": {"type": "line", "strokeWidth": 2},
         "encoding": {
           "x": {"field": "period", "type": "quantitative", "scale": {"type": "log", "domain": [0.05, 1], "nice": false},
             "axis": {"orient": "bottom", "values": [0.05, 0.06, 0.07, 0.08, 0.09, 0.1, 0.2, 0.3, 0.4, 0.5, 0.6, 0.7, 0.8, 0.9, 1], "labelExpr": "abs(datum.value-0.05)<1e-9 ? '0.05' : abs(datum.value-0.1)<1e-9 ? '0.1' : abs(datum.value-0.5)<1e-9 ? '0.5' : abs(datum.value-1)<1e-9 ? '1' : ''", "labelFontSize": 20, "labelFlush": false, "labelOverlap": false, "tickSize": -6, "tickColor": "#000", "tickWidth": 1.5, "domain": false, "grid": true, "gridColor": "#000", "gridDash": [1, 2], "gridOpacity": 0.75, "title": "固　 有　 周　 期　 （秒）", "titleFontSize": 18, "titleX": 225, "titleY": 41, "titleBaseline": "middle", "titleAlign": "center", "zindex": 1}},
           "y": {"field": "value", "type": "quantitative", "scale": {"domain": [0, 20], "nice": false},
             "axis": {"orient": "left", "values": [0, 5, 10, 15, 20], "labelFontSize": 20, "labelPadding": 16, "tickSize": -8, "tickColor": "#000", "tickWidth": 2, "domain": false, "grid": true, "gridColor": "#000", "gridDash": [1, 2], "gridOpacity": 0.9, "title": "震　  度", "titleFontSize": 17, "titleX": -64, "titleY": 161, "titleBaseline": "middle", "titleAlign": "center", "zindex": 1}},
           "stroke": {"field": "series", "type": "nominal", "scale": {"domain": ["観測波（UD方向）", "基準地震動Ss（UD方向）"], "range": ["#ff0000", "#0000ff"]},
             "legend": {"title": null, "orient": "none", "legendX": 26, "legendY": 32, "symbolType": "stroke", "symbolSize": 2304, "symbolStrokeWidth": 2, "clipHeight": 14, "rowPadding": 0, "padding": 0, "labelFontSize": 15, "labelOffset": 9, "labelColor": "#000", "labelLimit": 400}},
           "strokeDash": {"field": "series", "type": "nominal", "scale": {"domain": ["観測波（UD方向）", "基準地震動Ss（UD方向）"], "range": [[11, 7], [1, 0]]},
             "legend": {"title": null, "orient": "none", "legendX": 26, "legendY": 32, "symbolType": "stroke", "symbolSize": 2304, "symbolStrokeWidth": 2, "clipHeight": 14, "rowPadding": 0, "padding": 0, "labelFontSize": 15, "labelOffset": 9, "labelColor": "#000", "labelLimit": 400}}
         }}
      ]
    },
    {
      "width": 427, "height": 434,
      "title": {"text": "2F-1　R/B　O.P.　00.00m（　減衰1.0%　）"},
      "resolve": {"axis": {"x": "independent", "y": "independent"}},
      "layer": [
        {"data": {"values": [{}]}, "mark": {"type": "rect", "fill": "#d3f6cd"},
         "encoding": {
           "x": {"datum": 0.05, "type": "quantitative", "scale": {"type": "log", "domain": [0.05, 1], "nice": false}, "axis": {"orient": "top", "values": [0.06, 0.07, 0.08, 0.09, 0.1, 0.2, 0.3, 0.4, 0.5, 0.6, 0.7, 0.8, 0.9], "labels": false, "grid": false, "domain": false, "tickSize": -6, "tickColor": "#000", "tickWidth": 1.5, "title": null, "zindex": 1}},
           "x2": {"datum": 0.187},
           "y": {"datum": 0, "type": "quantitative", "scale": {"domain": [0, 20], "nice": false}, "axis": {"orient": "right", "values": [5, 10, 15], "labels": false, "grid": false, "domain": false, "tickSize": -8, "tickColor": "#000", "tickWidth": 2, "title": null, "zindex": 1}},
           "y2": {"datum": 15.5}
         }},
        {"data": {"values": [{}]}, "mark": {"type": "rect", "filled": false, "stroke": "#000", "strokeWidth": 2},
         "encoding": {
           "x": {"datum": 0.0558, "type": "quantitative", "scale": {"type": "log", "domain": [0.05, 1], "nice": false}, "axis": null},
           "x2": {"datum": 0.659},
           "y": {"datum": 19.23, "type": "quantitative", "scale": {"domain": [0, 20], "nice": false}, "axis": null},
           "y2": {"datum": 16.68}
         }},
        {"data": {"name": "p2"}, "mark": {"type": "line", "strokeWidth": 2},
         "encoding": {
           "x": {"field": "period", "type": "quantitative", "scale": {"type": "log", "domain": [0.05, 1], "nice": false},
             "axis": {"orient": "bottom", "values": [0.05, 0.06, 0.07, 0.08, 0.09, 0.1, 0.2, 0.3, 0.4, 0.5, 0.6, 0.7, 0.8, 0.9, 1], "labelExpr": "abs(datum.value-0.05)<1e-9 ? '0.05' : abs(datum.value-0.1)<1e-9 ? '0.1' : abs(datum.value-0.5)<1e-9 ? '0.5' : abs(datum.value-1)<1e-9 ? '1' : ''", "labelFontSize": 20, "labelFlush": false, "labelOverlap": false, "tickSize": -6, "tickColor": "#000", "tickWidth": 1.5, "domain": false, "grid": true, "gridColor": "#000", "gridDash": [1, 2], "gridOpacity": 0.75, "title": "固　 有　 周　 期　 （秒）", "titleFontSize": 18, "titleX": 225, "titleY": 41, "titleBaseline": "middle", "titleAlign": "center", "zindex": 1}},
           "y": {"field": "value", "type": "quantitative", "scale": {"domain": [0, 20], "nice": false},
             "axis": {"orient": "left", "values": [0, 5, 10, 15, 20], "labelFontSize": 20, "labelPadding": 16, "tickSize": -8, "tickColor": "#000", "tickWidth": 2, "domain": false, "grid": true, "gridColor": "#000", "gridDash": [1, 2], "gridOpacity": 0.9, "title": "震　  度", "titleFontSize": 17, "titleX": -64, "titleY": 161, "titleBaseline": "middle", "titleAlign": "center", "zindex": 1}},
           "stroke": {"field": "series", "type": "nominal", "scale": {"domain": ["観測波（UD方向）", "基準地震動Ss（UD方向）"], "range": ["#ff0000", "#0000ff"]},
             "legend": {"title": null, "orient": "none", "legendX": 26, "legendY": 32, "symbolType": "stroke", "symbolSize": 2304, "symbolStrokeWidth": 2, "clipHeight": 14, "rowPadding": 0, "padding": 0, "labelFontSize": 15, "labelOffset": 9, "labelColor": "#000", "labelLimit": 400}},
           "strokeDash": {"field": "series", "type": "nominal", "scale": {"domain": ["観測波（UD方向）", "基準地震動Ss（UD方向）"], "range": [[11, 7], [1, 0]]},
             "legend": {"title": null, "orient": "none", "legendX": 26, "legendY": 32, "symbolType": "stroke", "symbolSize": 2304, "symbolStrokeWidth": 2, "clipHeight": 14, "rowPadding": 0, "padding": 0, "labelFontSize": 15, "labelOffset": 9, "labelColor": "#000", "labelLimit": 400}}
         }}
      ]
    },
    {
      "width": 427, "height": 434,
      "title": {"text": "2F-1　R/B　O.P.　00.00m（　減衰1.5%　）"},
      "resolve": {"axis": {"x": "independent", "y": "independent"}},
      "layer": [
        {"data": {"values": [{}]}, "mark": {"type": "rect", "fill": "#d3f6cd"},
         "encoding": {
           "x": {"datum": 0.05, "type": "quantitative", "scale": {"type": "log", "domain": [0.05, 1], "nice": false}, "axis": {"orient": "top", "values": [0.06, 0.07, 0.08, 0.09, 0.1, 0.2, 0.3, 0.4, 0.5, 0.6, 0.7, 0.8, 0.9], "labels": false, "grid": false, "domain": false, "tickSize": -6, "tickColor": "#000", "tickWidth": 1.5, "title": null, "zindex": 1}},
           "x2": {"datum": 0.187},
           "y": {"datum": 0, "type": "quantitative", "scale": {"domain": [0, 20], "nice": false}, "axis": {"orient": "right", "values": [5, 10, 15], "labels": false, "grid": false, "domain": false, "tickSize": -8, "tickColor": "#000", "tickWidth": 2, "title": null, "zindex": 1}},
           "y2": {"datum": 15.5}
         }},
        {"data": {"values": [{}]}, "mark": {"type": "rect", "filled": false, "stroke": "#000", "strokeWidth": 2},
         "encoding": {
           "x": {"datum": 0.0558, "type": "quantitative", "scale": {"type": "log", "domain": [0.05, 1], "nice": false}, "axis": null},
           "x2": {"datum": 0.659},
           "y": {"datum": 19.23, "type": "quantitative", "scale": {"domain": [0, 20], "nice": false}, "axis": null},
           "y2": {"datum": 16.68}
         }},
        {"data": {"name": "p3"}, "mark": {"type": "line", "strokeWidth": 2},
         "encoding": {
           "x": {"field": "period", "type": "quantitative", "scale": {"type": "log", "domain": [0.05, 1], "nice": false},
             "axis": {"orient": "bottom", "values": [0.05, 0.06, 0.07, 0.08, 0.09, 0.1, 0.2, 0.3, 0.4, 0.5, 0.6, 0.7, 0.8, 0.9, 1], "labelExpr": "abs(datum.value-0.05)<1e-9 ? '0.05' : abs(datum.value-0.1)<1e-9 ? '0.1' : abs(datum.value-0.5)<1e-9 ? '0.5' : abs(datum.value-1)<1e-9 ? '1' : ''", "labelFontSize": 20, "labelFlush": false, "labelOverlap": false, "tickSize": -6, "tickColor": "#000", "tickWidth": 1.5, "domain": false, "grid": true, "gridColor": "#000", "gridDash": [1, 2], "gridOpacity": 0.75, "title": "固　 有　 周　 期　 （秒）", "titleFontSize": 18, "titleX": 225, "titleY": 41, "titleBaseline": "middle", "titleAlign": "center", "zindex": 1}},
           "y": {"field": "value", "type": "quantitative", "scale": {"domain": [0, 20], "nice": false},
             "axis": {"orient": "left", "values": [0, 5, 10, 15, 20], "labelFontSize": 20, "labelPadding": 16, "tickSize": -8, "tickColor": "#000", "tickWidth": 2, "domain": false, "grid": true, "gridColor": "#000", "gridDash": [1, 2], "gridOpacity": 0.9, "title": "震　  度", "titleFontSize": 17, "titleX": -64, "titleY": 161, "titleBaseline": "middle", "titleAlign": "center", "zindex": 1}},
           "stroke": {"field": "series", "type": "nominal", "scale": {"domain": ["観測波（UD方向）", "基準地震動Ss（UD方向）"], "range": ["#ff0000", "#0000ff"]},
             "legend": {"title": null, "orient": "none", "legendX": 26, "legendY": 32, "symbolType": "stroke", "symbolSize": 2304, "symbolStrokeWidth": 2, "clipHeight": 14, "rowPadding": 0, "padding": 0, "labelFontSize": 15, "labelOffset": 9, "labelColor": "#000", "labelLimit": 400}},
           "strokeDash": {"field": "series", "type": "nominal", "scale": {"domain": ["観測波（UD方向）", "基準地震動Ss（UD方向）"], "range": [[11, 7], [1, 0]]},
             "legend": {"title": null, "orient": "none", "legendX": 26, "legendY": 32, "symbolType": "stroke", "symbolSize": 2304, "symbolStrokeWidth": 2, "clipHeight": 14, "rowPadding": 0, "padding": 0, "labelFontSize": 15, "labelOffset": 9, "labelColor": "#000", "labelLimit": 400}}
         }}
      ]
    },
    {
      "width": 427, "height": 434,
      "title": {"text": "2F-1　R/B　O.P.　00.00m（　減衰2.0%　）"},
      "resolve": {"axis": {"x": "independent", "y": "independent"}},
      "layer": [
        {"data": {"values": [{}]}, "mark": {"type": "rect", "fill": "#d3f6cd"},
         "encoding": {
           "x": {"datum": 0.05, "type": "quantitative", "scale": {"type": "log", "domain": [0.05, 1], "nice": false}, "axis": {"orient": "top", "values": [0.06, 0.07, 0.08, 0.09, 0.1, 0.2, 0.3, 0.4, 0.5, 0.6, 0.7, 0.8, 0.9], "labels": false, "grid": false, "domain": false, "tickSize": -6, "tickColor": "#000", "tickWidth": 1.5, "title": null, "zindex": 1}},
           "x2": {"datum": 0.187},
           "y": {"datum": 0, "type": "quantitative", "scale": {"domain": [0, 20], "nice": false}, "axis": {"orient": "right", "values": [5, 10, 15], "labels": false, "grid": false, "domain": false, "tickSize": -8, "tickColor": "#000", "tickWidth": 2, "title": null, "zindex": 1}},
           "y2": {"datum": 15.5}
         }},
        {"data": {"values": [{}]}, "mark": {"type": "rect", "filled": false, "stroke": "#000", "strokeWidth": 2},
         "encoding": {
           "x": {"datum": 0.0558, "type": "quantitative", "scale": {"type": "log", "domain": [0.05, 1], "nice": false}, "axis": null},
           "x2": {"datum": 0.659},
           "y": {"datum": 19.23, "type": "quantitative", "scale": {"domain": [0, 20], "nice": false}, "axis": null},
           "y2": {"datum": 16.68}
         }},
        {"data": {"name": "p4"}, "mark": {"type": "line", "strokeWidth": 2},
         "encoding": {
           "x": {"field": "period", "type": "quantitative", "scale": {"type": "log", "domain": [0.05, 1], "nice": false},
             "axis": {"orient": "bottom", "values": [0.05, 0.06, 0.07, 0.08, 0.09, 0.1, 0.2, 0.3, 0.4, 0.5, 0.6, 0.7, 0.8, 0.9, 1], "labelExpr": "abs(datum.value-0.05)<1e-9 ? '0.05' : abs(datum.value-0.1)<1e-9 ? '0.1' : abs(datum.value-0.5)<1e-9 ? '0.5' : abs(datum.value-1)<1e-9 ? '1' : ''", "labelFontSize": 20, "labelFlush": false, "labelOverlap": false, "tickSize": -6, "tickColor": "#000", "tickWidth": 1.5, "domain": false, "grid": true, "gridColor": "#000", "gridDash": [1, 2], "gridOpacity": 0.75, "title": "固　 有　 周　 期　 （秒）", "titleFontSize": 18, "titleX": 225, "titleY": 41, "titleBaseline": "middle", "titleAlign": "center", "zindex": 1}},
           "y": {"field": "value", "type": "quantitative", "scale": {"domain": [0, 20], "nice": false},
             "axis": {"orient": "left", "values": [0, 5, 10, 15, 20], "labelFontSize": 20, "labelPadding": 16, "tickSize": -8, "tickColor": "#000", "tickWidth": 2, "domain": false, "grid": true, "gridColor": "#000", "gridDash": [1, 2], "gridOpacity": 0.9, "title": "震　  度", "titleFontSize": 17, "titleX": -64, "titleY": 161, "titleBaseline": "middle", "titleAlign": "center", "zindex": 1}},
           "stroke": {"field": "series", "type": "nominal", "scale": {"domain": ["観測波（UD方向）", "基準地震動Ss（UD方向）"], "range": ["#ff0000", "#0000ff"]},
             "legend": {"title": null, "orient": "none", "legendX": 26, "legendY": 32, "symbolType": "stroke", "symbolSize": 2304, "symbolStrokeWidth": 2, "clipHeight": 14, "rowPadding": 0, "padding": 0, "labelFontSize": 15, "labelOffset": 9, "labelColor": "#000", "labelLimit": 400}},
           "strokeDash": {"field": "series", "type": "nominal", "scale": {"domain": ["観測波（UD方向）", "基準地震動Ss（UD方向）"], "range": [[11, 7], [1, 0]]},
             "legend": {"title": null, "orient": "none", "legendX": 26, "legendY": 32, "symbolType": "stroke", "symbolSize": 2304, "symbolStrokeWidth": 2, "clipHeight": 14, "rowPadding": 0, "padding": 0, "labelFontSize": 15, "labelOffset": 9, "labelColor": "#000", "labelLimit": 400}}
         }}
      ]
    },
    {
      "width": 427, "height": 434,
      "title": {"text": "2F-1　R/B　O.P.　00.00m（　減衰2.5%　）"},
      "resolve": {"axis": {"x": "independent", "y": "independent"}},
      "layer": [
        {"data": {"values": [{}]}, "mark": {"type": "rect", "fill": "#d3f6cd"},
         "encoding": {
           "x": {"datum": 0.05, "type": "quantitative", "scale": {"type": "log", "domain": [0.05, 1], "nice": false}, "axis": {"orient": "top", "values": [0.06, 0.07, 0.08, 0.09, 0.1, 0.2, 0.3, 0.4, 0.5, 0.6, 0.7, 0.8, 0.9], "labels": false, "grid": false, "domain": false, "tickSize": -6, "tickColor": "#000", "tickWidth": 1.5, "title": null, "zindex": 1}},
           "x2": {"datum": 0.187},
           "y": {"datum": 0, "type": "quantitative", "scale": {"domain": [0, 20], "nice": false}, "axis": {"orient": "right", "values": [5, 10, 15], "labels": false, "grid": false, "domain": false, "tickSize": -8, "tickColor": "#000", "tickWidth": 2, "title": null, "zindex": 1}},
           "y2": {"datum": 15.5}
         }},
        {"data": {"values": [{}]}, "mark": {"type": "rect", "filled": false, "stroke": "#000", "strokeWidth": 2},
         "encoding": {
           "x": {"datum": 0.0558, "type": "quantitative", "scale": {"type": "log", "domain": [0.05, 1], "nice": false}, "axis": null},
           "x2": {"datum": 0.659},
           "y": {"datum": 19.23, "type": "quantitative", "scale": {"domain": [0, 20], "nice": false}, "axis": null},
           "y2": {"datum": 16.68}
         }},
        {"data": {"name": "p5"}, "mark": {"type": "line", "strokeWidth": 2},
         "encoding": {
           "x": {"field": "period", "type": "quantitative", "scale": {"type": "log", "domain": [0.05, 1], "nice": false},
             "axis": {"orient": "bottom", "values": [0.05, 0.06, 0.07, 0.08, 0.09, 0.1, 0.2, 0.3, 0.4, 0.5, 0.6, 0.7, 0.8, 0.9, 1], "labelExpr": "abs(datum.value-0.05)<1e-9 ? '0.05' : abs(datum.value-0.1)<1e-9 ? '0.1' : abs(datum.value-0.5)<1e-9 ? '0.5' : abs(datum.value-1)<1e-9 ? '1' : ''", "labelFontSize": 20, "labelFlush": false, "labelOverlap": false, "tickSize": -6, "tickColor": "#000", "tickWidth": 1.5, "domain": false, "grid": true, "gridColor": "#000", "gridDash": [1, 2], "gridOpacity": 0.75, "title": "固　 有　 周　 期　 （秒）", "titleFontSize": 18, "titleX": 225, "titleY": 41, "titleBaseline": "middle", "titleAlign": "center", "zindex": 1}},
           "y": {"field": "value", "type": "quantitative", "scale": {"domain": [0, 20], "nice": false},
             "axis": {"orient": "left", "values": [0, 5, 10, 15, 20], "labelFontSize": 20, "labelPadding": 16, "tickSize": -8, "tickColor": "#000", "tickWidth": 2, "domain": false, "grid": true, "gridColor": "#000", "gridDash": [1, 2], "gridOpacity": 0.9, "title": "震　  度", "titleFontSize": 17, "titleX": -64, "titleY": 161, "titleBaseline": "middle", "titleAlign": "center", "zindex": 1}},
           "stroke": {"field": "series", "type": "nominal", "scale": {"domain": ["観測波（UD方向）", "基準地震動Ss（UD方向）"], "range": ["#ff0000", "#0000ff"]},
             "legend": {"title": null, "orient": "none", "legendX": 26, "legendY": 32, "symbolType": "stroke", "symbolSize": 2304, "symbolStrokeWidth": 2, "clipHeight": 14, "rowPadding": 0, "padding": 0, "labelFontSize": 15, "labelOffset": 9, "labelColor": "#000", "labelLimit": 400}},
           "strokeDash": {"field": "series", "type": "nominal", "scale": {"domain": ["観測波（UD方向）", "基準地震動Ss（UD方向）"], "range": [[11, 7], [1, 0]]},
             "legend": {"title": null, "orient": "none", "legendX": 26, "legendY": 32, "symbolType": "stroke", "symbolSize": 2304, "symbolStrokeWidth": 2, "clipHeight": 14, "rowPadding": 0, "padding": 0, "labelFontSize": 15, "labelOffset": 9, "labelColor": "#000", "labelLimit": 400}}
         }}
      ]
    },
    {
      "width": 427, "height": 434,
      "title": {"text": "2F-1　R/B　O.P.　00.00m（　減衰3.0%　）"},
      "resolve": {"axis": {"x": "independent", "y": "independent"}},
      "layer": [
        {"data": {"values": [{}]}, "mark": {"type": "rect", "fill": "#d3f6cd"},
         "encoding": {
           "x": {"datum": 0.05, "type": "quantitative", "scale": {"type": "log", "domain": [0.05, 1], "nice": false}, "axis": {"orient": "top", "values": [0.06, 0.07, 0.08, 0.09, 0.1, 0.2, 0.3, 0.4, 0.5, 0.6, 0.7, 0.8, 0.9], "labels": false, "grid": false, "domain": false, "tickSize": -6, "tickColor": "#000", "tickWidth": 1.5, "title": null, "zindex": 1}},
           "x2": {"datum": 0.187},
           "y": {"datum": 0, "type": "quantitative", "scale": {"domain": [0, 20], "nice": false}, "axis": {"orient": "right", "values": [5, 10, 15], "labels": false, "grid": false, "domain": false, "tickSize": -8, "tickColor": "#000", "tickWidth": 2, "title": null, "zindex": 1}},
           "y2": {"datum": 15.5}
         }},
        {"data": {"values": [{}]}, "mark": {"type": "rect", "filled": false, "stroke": "#000", "strokeWidth": 2},
         "encoding": {
           "x": {"datum": 0.0558, "type": "quantitative", "scale": {"type": "log", "domain": [0.05, 1], "nice": false}, "axis": null},
           "x2": {"datum": 0.659},
           "y": {"datum": 19.23, "type": "quantitative", "scale": {"domain": [0, 20], "nice": false}, "axis": null},
           "y2": {"datum": 16.68}
         }},
        {"data": {"name": "p6"}, "mark": {"type": "line", "strokeWidth": 2},
         "encoding": {
           "x": {"field": "period", "type": "quantitative", "scale": {"type": "log", "domain": [0.05, 1], "nice": false},
             "axis": {"orient": "bottom", "values": [0.05, 0.06, 0.07, 0.08, 0.09, 0.1, 0.2, 0.3, 0.4, 0.5, 0.6, 0.7, 0.8, 0.9, 1], "labelExpr": "abs(datum.value-0.05)<1e-9 ? '0.05' : abs(datum.value-0.1)<1e-9 ? '0.1' : abs(datum.value-0.5)<1e-9 ? '0.5' : abs(datum.value-1)<1e-9 ? '1' : ''", "labelFontSize": 20, "labelFlush": false, "labelOverlap": false, "tickSize": -6, "tickColor": "#000", "tickWidth": 1.5, "domain": false, "grid": true, "gridColor": "#000", "gridDash": [1, 2], "gridOpacity": 0.75, "title": "固　 有　 周　 期　 （秒）", "titleFontSize": 18, "titleX": 225, "titleY": 41, "titleBaseline": "middle", "titleAlign": "center", "zindex": 1}},
           "y": {"field": "value", "type": "quantitative", "scale": {"domain": [0, 20], "nice": false},
             "axis": {"orient": "left", "values": [0, 5, 10, 15, 20], "labelFontSize": 20, "labelPadding": 16, "tickSize": -8, "tickColor": "#000", "tickWidth": 2, "domain": false, "grid": true, "gridColor": "#000", "gridDash": [1, 2], "gridOpacity": 0.9, "title": "震　  度", "titleFontSize": 17, "titleX": -64, "titleY": 161, "titleBaseline": "middle", "titleAlign": "center", "zindex": 1}},
           "stroke": {"field": "series", "type": "nominal", "scale": {"domain": ["観測波（UD方向）", "基準地震動Ss（UD方向）"], "range": ["#ff0000", "#0000ff"]},
             "legend": {"title": null, "orient": "none", "legendX": 26, "legendY": 32, "symbolType": "stroke", "symbolSize": 2304, "symbolStrokeWidth": 2, "clipHeight": 14, "rowPadding": 0, "padding": 0, "labelFontSize": 15, "labelOffset": 9, "labelColor": "#000", "labelLimit": 400}},
           "strokeDash": {"field": "series", "type": "nominal", "scale": {"domain": ["観測波（UD方向）", "基準地震動Ss（UD方向）"], "range": [[11, 7], [1, 0]]},
             "legend": {"title": null, "orient": "none", "legendX": 26, "legendY": 32, "symbolType": "stroke", "symbolSize": 2304, "symbolStrokeWidth": 2, "clipHeight": 14, "rowPadding": 0, "padding": 0, "labelFontSize": 15, "labelOffset": 9, "labelColor": "#000", "labelLimit": 400}}
         }}
      ]
    }
  ]
}
